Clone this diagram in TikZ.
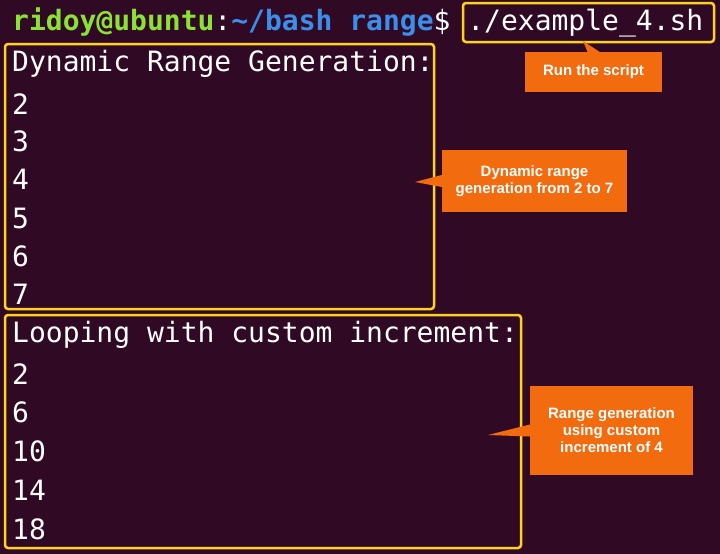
\documentclass[tikz,border=0pt]{standalone}
\usepackage{fontspec}
\setmonofont{DejaVu Sans Mono}
\newfontfamily\calloutfont{Liberation Sans}
\usetikzlibrary{positioning}
\definecolor{termbg}{HTML}{300A24}
\definecolor{termgreen}{HTML}{8AE234}
\definecolor{termblue}{HTML}{3B8EEA}
\definecolor{frameyellow}{HTML}{FFD21F}
\definecolor{calloutorange}{HTML}{F26B0F}
\tikzset{
  term/.style={anchor=west, inner sep=0pt, text=white, font=\ttfamily\fontsize{28}{28}\selectfont},
  frame/.style={draw=frameyellow, line width=2.5pt, rounded corners=3pt},
  callout/.style={fill=calloutorange, text=white, align=center, inner sep=2pt,
    font=\calloutfont\bfseries\fontsize{15}{17}\selectfont}
}
\begin{document}
\begin{tikzpicture}[x=1pt, y=-1pt]
  \fill[termbg] (0,0) rectangle (720,554);
  \useasboundingbox (0,0) rectangle (720,554);
  % prompt line
  \node[term] (prompt) at (12,22) {\textbf{\textcolor{termgreen}{ridoy@ubuntu}}:\textbf{\textcolor{termblue}{\~{}/bash range}}\$ ./example\_4.sh};
  % first output
  \node[term] (title1) at (12,64) {Dynamic Range Generation:};
  \foreach \y/\val/\name in {104/2/a1, 141/3/a2, 179/4/a3, 218/5/a4, 256/6/a5, 294/7/a6}{
    \node[term] (\name) at (12,\y) {\val};
  }
  % second output
  \node[term] (title2) at (12,335) {Looping with custom increment:};
  \foreach \y/\val/\name in {374/2/b1, 412/6/b2, 451/10/b3, 490/14/b4, 529/18/b5}{
    \node[term] (\name) at (12,\y) {\val};
  }
  % frames
  \draw[frame] (463,3) rectangle (714,42);
  \draw[frame] (5,44) rectangle (434,309);
  \draw[frame] (5,315) rectangle (521,548);
  % callouts
  \node[callout, minimum width=137pt, minimum height=40pt] (run) at (593.5,72) {Run the script};
  \coordinate (runtip) at (583,41);
  \fill[calloutorange] ([xshift=-6pt]run.north) -- (runtip) -- ([xshift=6pt]run.north) -- cycle;
  \node[callout, minimum width=185pt, minimum height=62pt] (dyn) at (534.5,181) {Dynamic range\\generation from 2 to 7};
  \coordinate (dyntip) at (415,182);
  \fill[calloutorange] ([yshift=-6pt]dyn.west) -- (dyntip) -- ([yshift=6pt]dyn.west) -- cycle;
  \node[callout, minimum width=163pt, minimum height=89pt] (inc) at (611.5,430.5) {Range generation\\using custom\\increment of 4};
  \coordinate (inctip) at (488,435);
  \fill[calloutorange] ([yshift=-6pt]inc.west) -- (inctip) -- ([yshift=6pt]inc.west) -- cycle;
\end{tikzpicture}
\end{document}
